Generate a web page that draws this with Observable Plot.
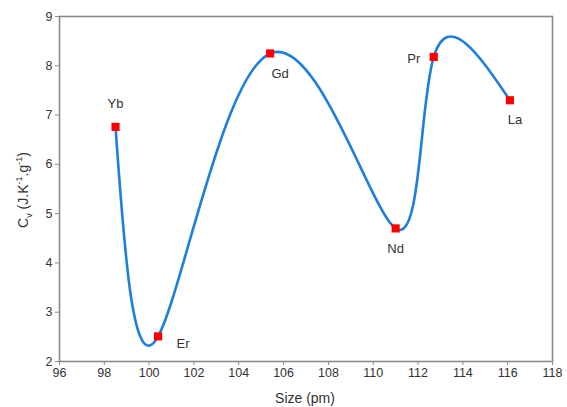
<!DOCTYPE html>
<html><head><meta charset="utf-8">
<script src="https://cdn.jsdelivr.net/npm/d3@7"></script>
<script src="https://cdn.jsdelivr.net/npm/@observablehq/plot@0.6"></script>
<style>body{margin:0;background:#fff;} svg{display:block;}</style>
</head><body><div id="chart"></div>
<script>
const elements = ["Yb", "Er", "Gd", "Nd", "Pr", "La"];
const sizes = [98.5, 100.4, 105.4, 111.0, 112.7, 116.1];
const cv = [6.76, 2.51, 8.25, 4.70, 8.18, 7.30];
const xTicks = [96, 98, 100, 102, 104, 106, 108, 110, 112, 114, 116, 118];
const yTicks = [2, 3, 4, 5, 6, 7, 8, 9];

const data = elements.map((e, i) => ({el: e, x: sizes[i], y: cv[i]}));
const font = "Liberation Sans, Arial, sans-serif";
const gray = "#8a8a8a";
const lbl = (name, dx, dy) => Plot.text(data.filter(d => d.el === name),
  {x: "x", y: "y", text: "el", dx, dy, fontSize: 13, fill: "#333"});

const chart = Plot.plot({
  width: 567, height: 407,
  marginLeft: 59, marginRight: 15, marginTop: 16, marginBottom: 46,
  style: {fontFamily: font, fontSize: "12px", color: "#333", background: "#fff"},
  x: {domain: [96, 118], ticks: xTicks, label: null},
  y: {domain: [2, 9], ticks: yTicks, label: null},
  marks: [
    Plot.frame({stroke: gray, strokeWidth: 1.6}),
    Plot.axisX({ticks: xTicks, tickFormat: "d", tickSize: 4, tickPadding: 3, stroke: gray, fill: "#333", fontSize: 12.5, label: null}),
    Plot.axisY({ticks: yTicks, tickFormat: "d", tickSize: 4, tickPadding: 3, stroke: gray, fill: "#333", fontSize: 12.5, label: null}),
    Plot.line(data, {x: "x", y: "y", curve: "natural", stroke: "#1e7fdc", strokeWidth: 2.6}),
    Plot.dot(data, {x: "x", y: "y", symbol: "square", r: 4.6, fill: "#ff0000", stroke: "none"}),
    lbl("Yb", 0, -23),
    lbl("Er", 25, 7),
    lbl("Gd", 10, 20),
    lbl("Nd", 0, 20),
    lbl("Pr", -20, 2),
    lbl("La", 5, 20)
  ]
});
document.getElementById("chart").append(chart);

// axis titles
const svg = d3.select(chart);
svg.append("text").attr("x", 305).attr("y", 403).attr("text-anchor", "middle")
  .attr("font-family", font).attr("font-size", 14).attr("fill", "#333").text("Size (pm)");
const yl = svg.append("text").attr("transform", "translate(28,190) rotate(-90)")
  .attr("text-anchor", "middle").attr("font-family", font).attr("font-size", 14).attr("fill", "#333");
yl.append("tspan").text("C");
yl.append("tspan").attr("font-size", 9).attr("dy", 4).text("v");
yl.append("tspan").attr("dy", -4).text(" (J.K");
yl.append("tspan").attr("font-size", 9).attr("dy", -6).text("-1");
yl.append("tspan").attr("dy", 6).text(".g");
yl.append("tspan").attr("font-size", 9).attr("dy", -6).text("-1");
yl.append("tspan").attr("dy", 6).text(")");
</script></body></html>
